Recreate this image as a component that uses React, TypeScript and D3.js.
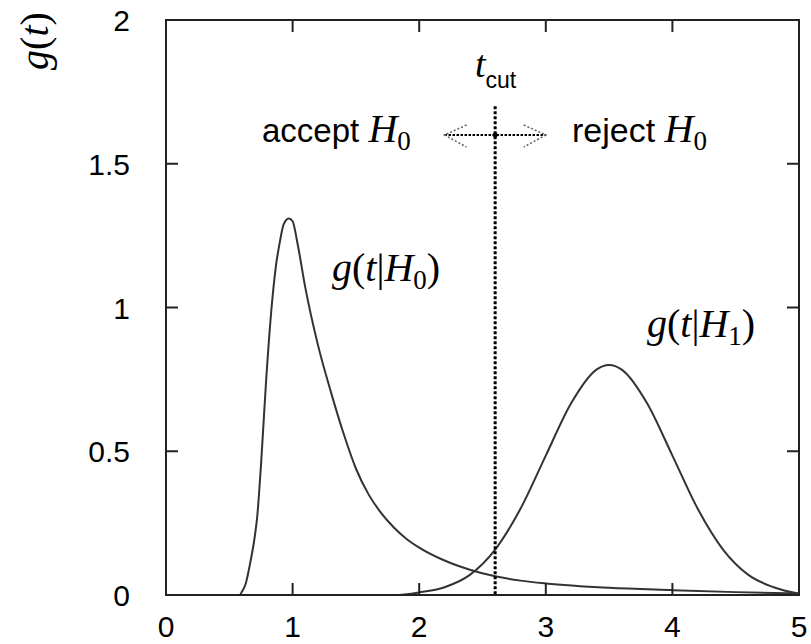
import React from "react";
import * as d3 from "d3";

const xTicks = [0, 1, 2, 3, 4, 5];
const yTicks = [0, 0.5, 1, 1.5, 2];
const yTickLabels = ["0", "0.5", "1", "1.5", "2"];

// g(t|H0)
const h0T = [0.0, 0.58, 0.6, 0.63, 0.66, 0.7, 0.72, 0.75, 0.79, 0.83, 0.87, 0.9, 0.93, 0.97, 1.0, 1.04, 1.1, 1.2, 1.3, 1.4, 1.5, 1.6, 1.7, 1.8, 1.9, 2.0, 2.2, 2.4, 2.6, 2.8, 3.0, 3.5, 4.0, 4.5, 5.0];
const h0G = [0.0, 0.0, 0.012, 0.04, 0.1, 0.2, 0.27, 0.45, 0.74, 0.98, 1.15, 1.23, 1.29, 1.31, 1.3, 1.22, 1.07, 0.87, 0.71, 0.565, 0.44, 0.35, 0.285, 0.235, 0.195, 0.165, 0.12, 0.088, 0.065, 0.05, 0.04, 0.025, 0.017, 0.01, 0.005];

// g(t|H1)
const h1T = [0.0, 1.8, 2.0, 2.2, 2.4, 2.6, 2.8, 3.0, 3.2, 3.4, 3.5, 3.6, 3.8, 4.0, 4.2, 4.4, 4.6, 4.8, 5.0];
const h1G = [0.0, 0.0, 0.009, 0.027, 0.07, 0.158, 0.3, 0.485, 0.667, 0.784, 0.8, 0.784, 0.667, 0.485, 0.3, 0.158, 0.07, 0.027, 0.004];

const tCut = 2.6;
const cutTop = 1.7;
const arrowY = 1.6;
const arrowFrom = 2.2;
const arrowTo = 3.0;

const W = 811;
const H = 644;
const M = { left: 166, right: 12, top: 20, bottom: 49 };

export default function App() {
  const x = d3.scaleLinear().domain([0, 5]).range([M.left, W - M.right]);
  const y = d3.scaleLinear().domain([0, 2]).range([H - M.bottom, M.top]);
  const mk = (ts: number[], gs: number[]) =>
    d3
      .line<number>()
      .x((t) => x(t))
      .y((_, i) => y(gs[i]))
      .curve(d3.curveMonotoneX)(ts) as string;
  const x0 = x(0), x1 = x(5), y0 = y(0), y1 = y(2);
  const tick = 12;
  const sans = "'Liberation Sans', Arial, Helvetica, sans-serif";
  const serif = "'Liberation Serif', 'Times New Roman', serif";
  const ax = x(arrowFrom), bx = x(arrowTo), ay = y(arrowY);
  return (
    <svg width={W} height={H} style={{ position: "absolute", left: 0, top: 0, background: "#fff" }}>
      <rect x={0} y={0} width={W} height={H} fill="#fff" />
      {/* curves */}
      <path d={mk(h0T, h0G)} fill="none" stroke="#333" strokeWidth={2} />
      <path d={mk(h1T, h1G)} fill="none" stroke="#333" strokeWidth={2} />
      {/* cut line */}
      <line x1={x(tCut)} x2={x(tCut)} y1={y(cutTop)} y2={y0} stroke="#000" strokeWidth={3} strokeDasharray="3,2" />
      {/* arrow */}
      <line x1={ax} x2={bx} y1={ay} y2={ay} stroke="#000" strokeWidth={2.2} strokeDasharray="2.5,1.5" />
      <g stroke="#666" strokeWidth={1.6} strokeDasharray="2,2" fill="none">
        <polyline points={`${ax + 22},${ay - 10} ${ax},${ay} ${ax + 22},${ay + 12}`} />
        <polyline points={`${bx - 22},${ay - 10} ${bx},${ay} ${bx - 22},${ay + 12}`} />
      </g>
      <circle cx={x(tCut)} cy={ay} r={2.5} fill="#000" />
      {/* frame */}
      <rect x={x0} y={y1} width={x1 - x0} height={y0 - y1} fill="none" stroke="#222" strokeWidth={2} />
      {xTicks.filter((t) => t > 0 && t < 5).map((t) => (
        <g key={"xt" + t} stroke="#222" strokeWidth={2}>
          <line x1={x(t)} x2={x(t)} y1={y0} y2={y0 - tick} />
          <line x1={x(t)} x2={x(t)} y1={y1} y2={y1 + tick} />
        </g>
      ))}
      {yTicks.filter((v) => v > 0 && v < 2).map((v) => (
        <g key={"yt" + v} stroke="#222" strokeWidth={2}>
          <line x1={x0} x2={x0 + tick} y1={y(v)} y2={y(v)} />
          <line x1={x1} x2={x1 - tick} y1={y(v)} y2={y(v)} />
        </g>
      ))}
      {xTicks.map((t) => (
        <text key={"xl" + t} x={x(t)} y={637} textAnchor="middle" fontFamily={sans} fontSize={30} fill="#000">
          {t}
        </text>
      ))}
      {yTicks.map((v, i) => (
        <text key={"yl" + v} x={130} y={y(v) + 11} textAnchor="end" fontFamily={sans} fontSize={30} fill="#000">
          {yTickLabels[i]}
        </text>
      ))}
      {/* y label */}
      <text transform="translate(48,41) rotate(-90)" textAnchor="middle" fontFamily={serif} fontSize={40} fill="#000">
        <tspan fontStyle="italic">g</tspan>(<tspan fontStyle="italic">t</tspan>)
      </text>
      {/* t_cut */}
      <text x={475} y={77} fontFamily={serif} fontSize={38} fontStyle="italic" fill="#000">
        t
        <tspan fontFamily={sans} fontStyle="normal" fontSize={23} dy={11}>cut</tspan>
      </text>
      {/* accept / reject */}
      <text x={262} y={142} fontFamily={sans} fontSize={33} fill="#000">
        accept{" "}
        <tspan fontFamily={serif} fontStyle="italic" fontSize={40}>H</tspan>
        <tspan fontFamily={serif} fontSize={27} dy={8}>0</tspan>
      </text>
      <text x={572} y={142} fontFamily={sans} fontSize={34} fill="#000">
        reject{" "}
        <tspan fontFamily={serif} fontStyle="italic" fontSize={40}>H</tspan>
        <tspan fontFamily={serif} fontSize={27} dy={8}>0</tspan>
      </text>
      {/* curve labels */}
      <text x={332} y={281} fontFamily={serif} fontSize={40} fill="#000">
        <tspan fontStyle="italic">g</tspan>(<tspan fontStyle="italic">t</tspan>|<tspan fontStyle="italic">H</tspan>
        <tspan fontSize={27} dy={8}>0</tspan>
        <tspan dy={-8}>)</tspan>
      </text>
      <text x={647} y={337} fontFamily={serif} fontSize={40} fill="#000">
        <tspan fontStyle="italic">g</tspan>(<tspan fontStyle="italic">t</tspan>|<tspan fontStyle="italic">H</tspan>
        <tspan fontSize={27} dy={8}>1</tspan>
        <tspan dy={-8}>)</tspan>
      </text>
    </svg>
  );
}
